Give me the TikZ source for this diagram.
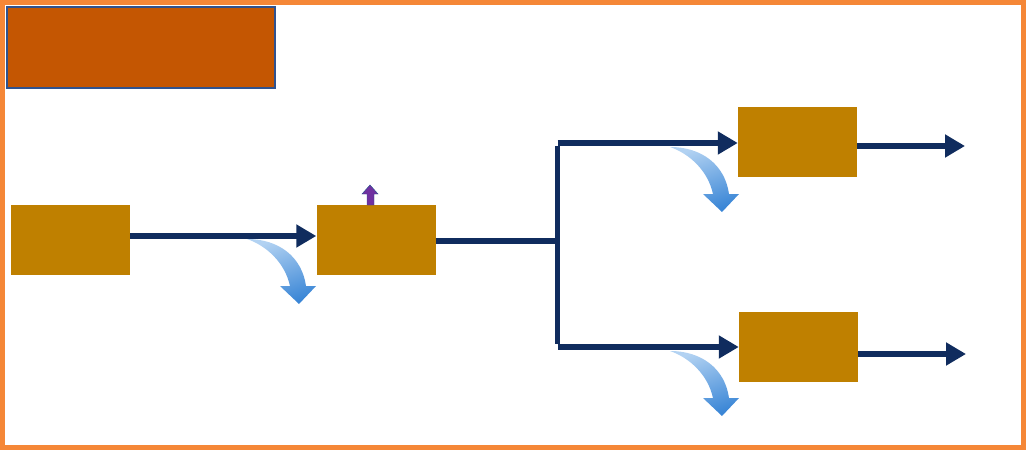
\documentclass[tikz,border=0pt]{standalone}
\usepackage{tikz}
\usetikzlibrary{arrows.meta,positioning,calc}
\usepackage{xcolor}

\definecolor{frameorange}{RGB}{245,135,55}
\definecolor{titlefill}{RGB}{196,86,2}
\definecolor{titleline}{RGB}{47,82,143}
\definecolor{goldbox}{RGB}{191,128,0}
\definecolor{navy}{RGB}{16,44,94}
\definecolor{leaklight}{RGB}{178,210,242}
\definecolor{leakdark}{RGB}{58,134,214}
\definecolor{upviolet}{RGB}{112,48,160}

\tikzset{
    stagebox/.style={fill=goldbox, minimum width=3.57cm, minimum height=2.1cm, inner sep=0pt},
    flow/.style={navy, line width=0.155cm},
    flowarrow/.style={flow, -{Triangle[length=0.6cm,width=0.66cm]}},
    leak/.pic={
        \shade[top color=leaklight, bottom color=leakdark, shading angle=20]
        (0,0) .. controls (32,0) and (55,18) .. (59,47)
        -- (69,47) -- (52,65) -- (33,47) -- (43,47)
        .. controls (38,24) and (20,7) .. (0,0) -- cycle;
    }
}

\begin{document}
\begin{tikzpicture}[x=0.03cm, y=-0.03cm]
    \useasboundingbox (0,0) rectangle (1026,450);

    % Bingkai luar
    \draw[frameorange, line width=0.15cm] (2.5,2.5) rectangle (1023.5,447.5);

    % Kotak judul
    \node[fill=titlefill, draw=titleline, line width=0.06cm, minimum width=8.04cm,
          minimum height=2.43cm, inner sep=0pt] (title) at (141,47.5) {};

    % Kotak tahap
    \node[stagebox] (boxA) at (70.5,240) {};
    \node[stagebox] (boxB) at (376,240) {};
    \node[stagebox] (boxC) at (797.5,142) {};
    \node[stagebox] (boxD) at (798.5,347) {};

    % Titik bantu
    \coordinate (lineAB) at (0,236);
    \coordinate (split) at (557.5,241);
    \coordinate (splitTop) at (557.5,143);
    \coordinate (splitBot) at (557.5,347);
    \coordinate (outC) at (965,146);
    \coordinate (outD) at (966,354);

    % Panah alur utama
    \draw[flowarrow] (boxA.east |- lineAB) -- (boxB.west |- lineAB);
    \draw[flow] (boxB.east |- split) -- (split);
    \draw[flow] ([yshift=-0.077cm]splitTop) -- ([yshift=0.077cm]splitBot);
    \draw[flowarrow] (splitTop) -- (boxC.west |- splitTop);
    \draw[flowarrow] (splitBot) -- (boxD.west);
    \draw[flowarrow] (boxC.east |- outC) -- (outC);
    \draw[flowarrow] (boxD.east |- outD) -- (outD);

    % Panah lengkung (kehilangan)
    \pic at (247,239) {leak};
    \pic at (670,147) {leak};
    \pic at (670,351) {leak};

    % Panah kecil ke atas
    \filldraw[fill=upviolet, draw=titleline, line width=0.4pt]
    (367,205) -- (367,194) -- (362,194) -- (370,185) -- (378,194)
    -- (374,194) -- (374,205) -- cycle;
\end{tikzpicture}
\end{document}
